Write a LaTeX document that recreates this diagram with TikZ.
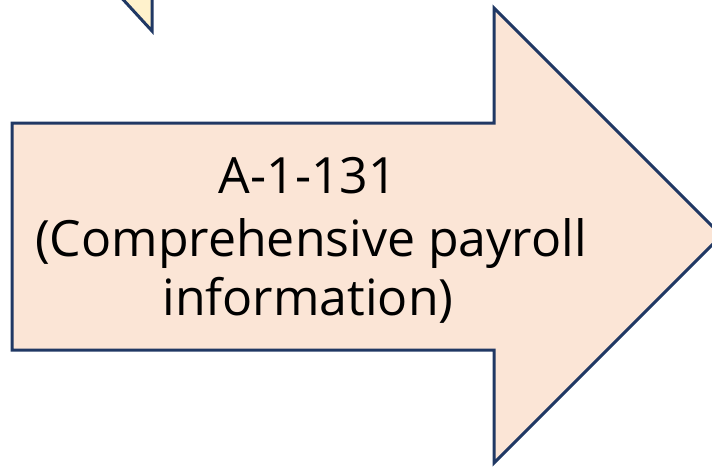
\documentclass[tikz,border=0pt]{standalone}
\usepackage{fontspec}
\setmainfont{Open Sans}
\definecolor{arrowfill}{HTML}{FBE5D6}
\definecolor{edgeblue}{HTML}{203864}
\definecolor{paleyellow}{HTML}{FFF2CC}
\tikzset{
  edgeline/.style={draw=edgeblue, line width=3pt, line join=miter},
  blockarrow/.style={edgeline, fill=arrowfill},
  labeltext/.style={anchor=base, inner sep=0pt, font=\fontsize{50}{60}\selectfont, text=black}
}
\begin{document}
\begin{tikzpicture}[x=1pt, y=-1pt]
  \useasboundingbox (0,0) rectangle (712,466);
  \clip (0,0) rectangle (712,466);
  % tip of the neighbouring shape, top left
  \fill[paleyellow] (118,-6) -- (152,31) -- (152,-6) -- cycle;
  \draw[edgeline] (118,-6) -- (152,31) -- (152,-6);
  % right block arrow
  \draw[blockarrow] (12,123) -- (494,123) -- (494,8) -- (721.5,235.5)
    -- (494,463) -- (494,350) -- (12,350) -- cycle;
  % label
  \node[labeltext] (line1) at (308,193) {A-1-131};
  \node[labeltext] (line2) at (311,256) {(Comprehensive payroll};
  \node[labeltext] (line3) at (308,315) {information)};
\end{tikzpicture}
\end{document}
